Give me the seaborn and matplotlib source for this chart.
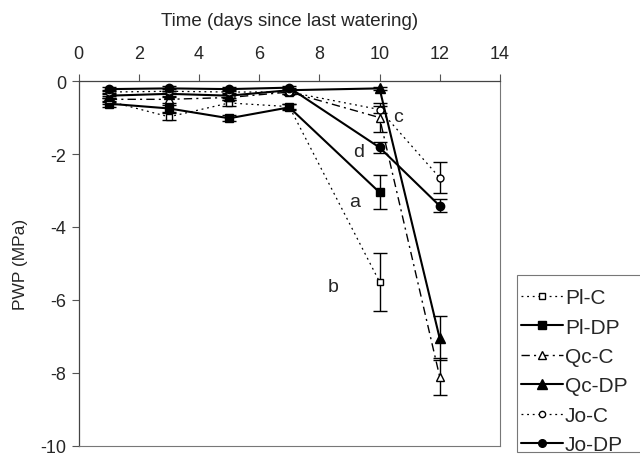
import numpy as np
import pandas as pd
import matplotlib
matplotlib.use("Agg")
import matplotlib.pyplot as plt
import matplotlib.patches as mpatches
import seaborn as sns

days = [1, 3, 5, 7, 10, 12]
series = ["Pl-C", "Pl-DP", "Qc-C", "Qc-DP", "Jo-C", "Jo-DP"]
pl_c = [-0.55, -0.98, -0.60, -0.70, -5.50, np.nan]
pl_dp = [-0.62, -0.75, -1.02, -0.72, -3.05, np.nan]
qc_c = [-0.50, -0.50, -0.45, -0.30, -1.00, -8.10]
qc_dp = [-0.40, -0.35, -0.40, -0.25, -0.20, -7.05]
jo_c = [-0.30, -0.28, -0.30, -0.30, -0.78, -2.65]
jo_dp = [-0.22, -0.20, -0.22, -0.18, -1.82, -3.42]
pl_c_err = [0.08, 0.10, 0.08, 0.06, 0.80, np.nan]
pl_dp_err = [0.08, 0.10, 0.08, 0.08, 0.47, np.nan]
qc_c_err = [0.08, 0.10, 0.08, 0.06, 0.40, 0.50]
qc_dp_err = [0.06, 0.08, 0.06, 0.05, 0.05, 0.60]
jo_c_err = [0.05, 0.06, 0.05, 0.05, 0.10, 0.42]
jo_dp_err = [0.06, 0.06, 0.06, 0.05, 0.15, 0.18]
letters = ["a", "b", "c", "d"]
letter_x = [9.18, 8.45, 10.6, 9.3]
letter_y = [-3.30, -5.62, -0.96, -1.94]

values = [pl_c, pl_dp, qc_c, qc_dp, jo_c, jo_dp]
errors = [pl_c_err, pl_dp_err, qc_c_err, qc_dp_err, jo_c_err, jo_dp_err]

rows = []
for name, vals, errs in zip(series, values, errors):
    for d, v, e in zip(days, vals, errs):
        rows.append({"day": d, "series": name, "pwp": v, "err": e})
df = pd.DataFrame(rows).dropna()

sns.set_style("white")
plt.rcParams["font.family"] = ["Liberation Sans", "DejaVu Sans"]
plt.rcParams["axes.unicode_minus"] = False

fig = plt.figure(figsize=(6.4, 4.56), dpi=100)
ax = fig.add_axes([0.123, 0.02, 0.658, 0.80])

styles = {
    "Pl-C": dict(ls=(0, (1.5, 3)), marker="s", mfc="white", lw=0.9, ms=5.0),
    "Pl-DP": dict(ls="-", marker="s", mfc="black", lw=1.5, ms=6.0),
    "Qc-C": dict(ls=(0, (6, 3, 1.5, 3)), marker="^", mfc="white", lw=1.0, ms=6.0),
    "Qc-DP": dict(ls="-", marker="^", mfc="black", lw=1.5, ms=7.0),
    "Jo-C": dict(ls=(0, (1.5, 3)), marker="o", mfc="white", lw=0.9, ms=5.0),
    "Jo-DP": dict(ls="-", marker="o", mfc="black", lw=1.5, ms=6.0),
}

handles = []
for name in series:
    sub = df[df["series"] == name]
    st = styles[name]
    ax.errorbar(sub["day"], sub["pwp"], yerr=sub["err"], fmt="none",
                ecolor="black", elinewidth=1.0, capsize=5, capthick=1.0, zorder=2)
    sns.lineplot(data=sub, x="day", y="pwp", ax=ax, color="black",
                 linestyle=st["ls"], linewidth=st["lw"], marker=st["marker"],
                 markerfacecolor=st["mfc"], markeredgecolor="black",
                 markersize=st["ms"], markeredgewidth=1.0, zorder=3,
                 legend=False, errorbar=None)
    h, = ax.plot([], [], color="black", linestyle=st["ls"], linewidth=st["lw"],
                 marker=st["marker"], markerfacecolor=st["mfc"],
                 markeredgecolor="black", markersize=st["ms"] - 0.5)
    handles.append(h)

for t, x, y in zip(letters, letter_x, letter_y):
    ax.text(x, y, t, fontsize=14, ha="center", va="center")

ax.set_xlim(0, 14)
ax.set_ylim(-10, 0)
ax.set_xticks(range(0, 15, 2))
ax.set_yticks(range(-10, 1, 2))
ax.xaxis.tick_top()
ax.xaxis.set_label_position("top")
ax.set_xlabel("Time (days since last watering)", fontsize=13.5, labelpad=14)
ax.set_ylabel("PWP (MPa)", fontsize=12.5, labelpad=9)
ax.tick_params(axis="x", top=True, bottom=False, direction="out", length=5,
               width=0.8, labelsize=13, pad=9, color="#555555")
ax.tick_params(axis="y", left=True, direction="out", length=5, width=0.8,
               labelsize=13, pad=4, color="#555555")
for sp in ["left", "top"]:
    ax.spines[sp].set_color("#444444")
    ax.spines[sp].set_linewidth(0.9)
for sp in ["right", "bottom"]:
    ax.spines[sp].set_color("#777777")
    ax.spines[sp].set_linewidth(0.8)
    ax.spines[sp].set_linestyle((0, (1, 1)))

# legend frame drawn as a figure rectangle
W, H = 640, 456
frame = mpatches.Rectangle((517 / W, 1 - 453 / H), 123.5 / W, 177 / H,
                           transform=fig.transFigure, fill=False,
                           edgecolor="#777777", linewidth=0.8)
fig.patches.append(frame)

leg = fig.legend(handles, series, loc="upper left",
                 bbox_to_anchor=(516 / W, 1 - 284 / H), frameon=False,
                 fontsize=15, handlelength=2.0, handletextpad=0.1,
                 labelspacing=0.5, borderpad=0.25, borderaxespad=0.0)

fig.savefig("out.png", dpi=100)
